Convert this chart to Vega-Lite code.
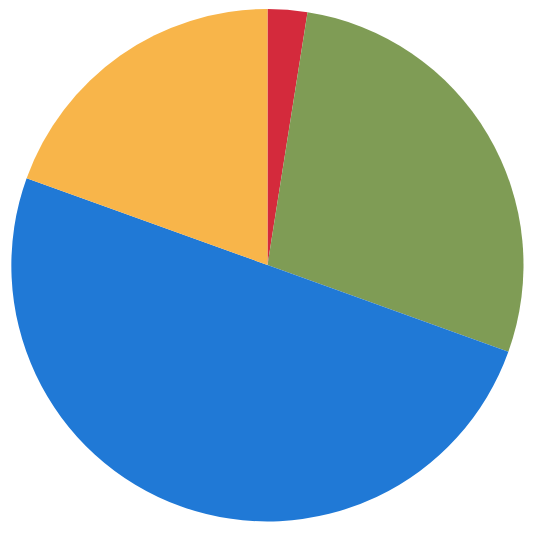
{
  "$schema": "https://vega.github.io/schema/vega-lite/v6.json",
  "width": 535,
  "height": 530,
  "padding": 0,
  "autosize": "none",
  "background": "white",
  "view": {"stroke": null},
  "data": {
    "values": [
      {"category": "A", "value": 2.5, "ord": 1},
      {"category": "B", "value": 28, "ord": 2},
      {"category": "C", "value": 50, "ord": 3},
      {"category": "D", "value": 19.5, "ord": 4}
    ]
  },
  "mark": {"type": "arc", "outerRadius": 256},
  "encoding": {
    "theta": {"field": "value", "type": "quantitative", "stack": true},
    "order": {"field": "ord", "type": "quantitative"},
    "color": {
      "field": "category",
      "type": "nominal",
      "scale": {"domain": ["A", "B", "C", "D"], "range": ["#d42a3c", "#7f9c55", "#2079d6", "#f8b54a"]},
      "legend": null
    }
  }
}
